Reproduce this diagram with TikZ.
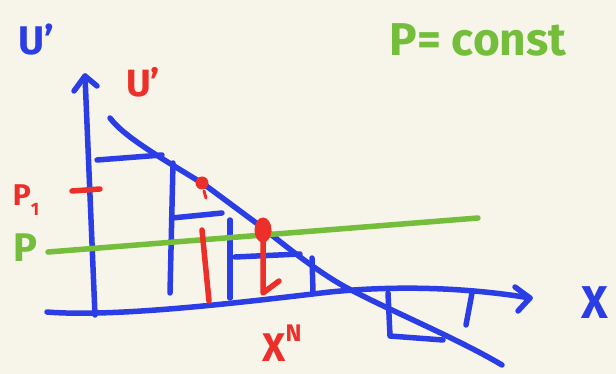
\documentclass[tikz,border=0pt]{standalone}
\usepackage{fontspec}
\setmainfont{Fira Sans}
\definecolor{paper}{HTML}{F7F4EA}
\definecolor{pblue}{HTML}{2B3EE6}
\definecolor{pred}{HTML}{EC2F28}
\definecolor{pgreen}{HTML}{74BE3C}
\begin{document}
\begin{tikzpicture}[x=1pt,y=-1pt,
  pen/.style={line width=5.5pt,line cap=round,line join=round},
  bl/.style={pen,pblue},
  rd/.style={pen,pred},
  gr/.style={pen,pgreen},
  lbl/.style={inner sep=0pt,font=\fontsize{#1}{#1}\selectfont\bfseries}]
\fill[paper] (0,0) rectangle (616,374);
\useasboundingbox (0,0) rectangle (616,374);
% axes
\draw[bl] (95,315) -- (85,76);
\draw[bl] (74,91) -- (85,76) -- (97,86);
\draw[bl] (47,312) .. controls (120,318) and (260,300) .. (330,292) .. controls (400,285) and (470,288) .. (530,298);
\draw[bl] (515,287) -- (530,298) -- (518,311);
% demand curve
\draw[bl] (110,118) .. controls (125,138) and (165,160) .. (205,185) -- (263,228) .. controls (300,258) and (330,280) .. (355,292) .. controls (400,315) and (460,340) .. (502,365);
% steps
\draw[bl] (97,160) -- (162,155);
\draw[bl] (173,163) -- (170,293);
\draw[bl] (172,218) -- (222,213);
\draw[bl] (230,220) -- (230,298);
\draw[bl] (235,257) -- (300,254);
\draw[bl] (312,258) -- (313,292);
\draw[bl] (388,293) -- (390,336) -- (443,340);
\draw[bl] (472,293) -- (466,325);
% green price line
\draw[gr] (48,252) -- (478,218);
% red marks
\draw[rd] (72,191) -- (100,189);
\fill[pred] (202,183) circle (6.5);
\draw[pred,line width=3pt,line cap=round] (204,191) -- (206,198);
\draw[rd] (202,230) -- (209,301);
\fill[pred] (263,230) ellipse (8.5 and 12.5);
\draw[rd] (263,232) -- (263,293) -- (279,281);
% labels
\node[lbl=40,pblue] (U1) at (36,40) {U'};
\node[lbl=38,pred] (U2) at (143,82) {U'};
\node[lbl=46,pgreen] (pc) at (478,40) {P= const};
\node[lbl=30,pred] (p1) at (26,200) {P\raisebox{-0.35em}{\fontsize{18}{18}\selectfont 1}};
\node[lbl=40,pgreen] (pp) at (25,248) {P};
\node[lbl=46,pblue] (xx) at (595,303) {X};
\node[lbl=40,pred] (xn) at (282,343) {X\raisebox{0.5em}{\fontsize{24}{24}\selectfont N}};
\end{tikzpicture}
\end{document}
